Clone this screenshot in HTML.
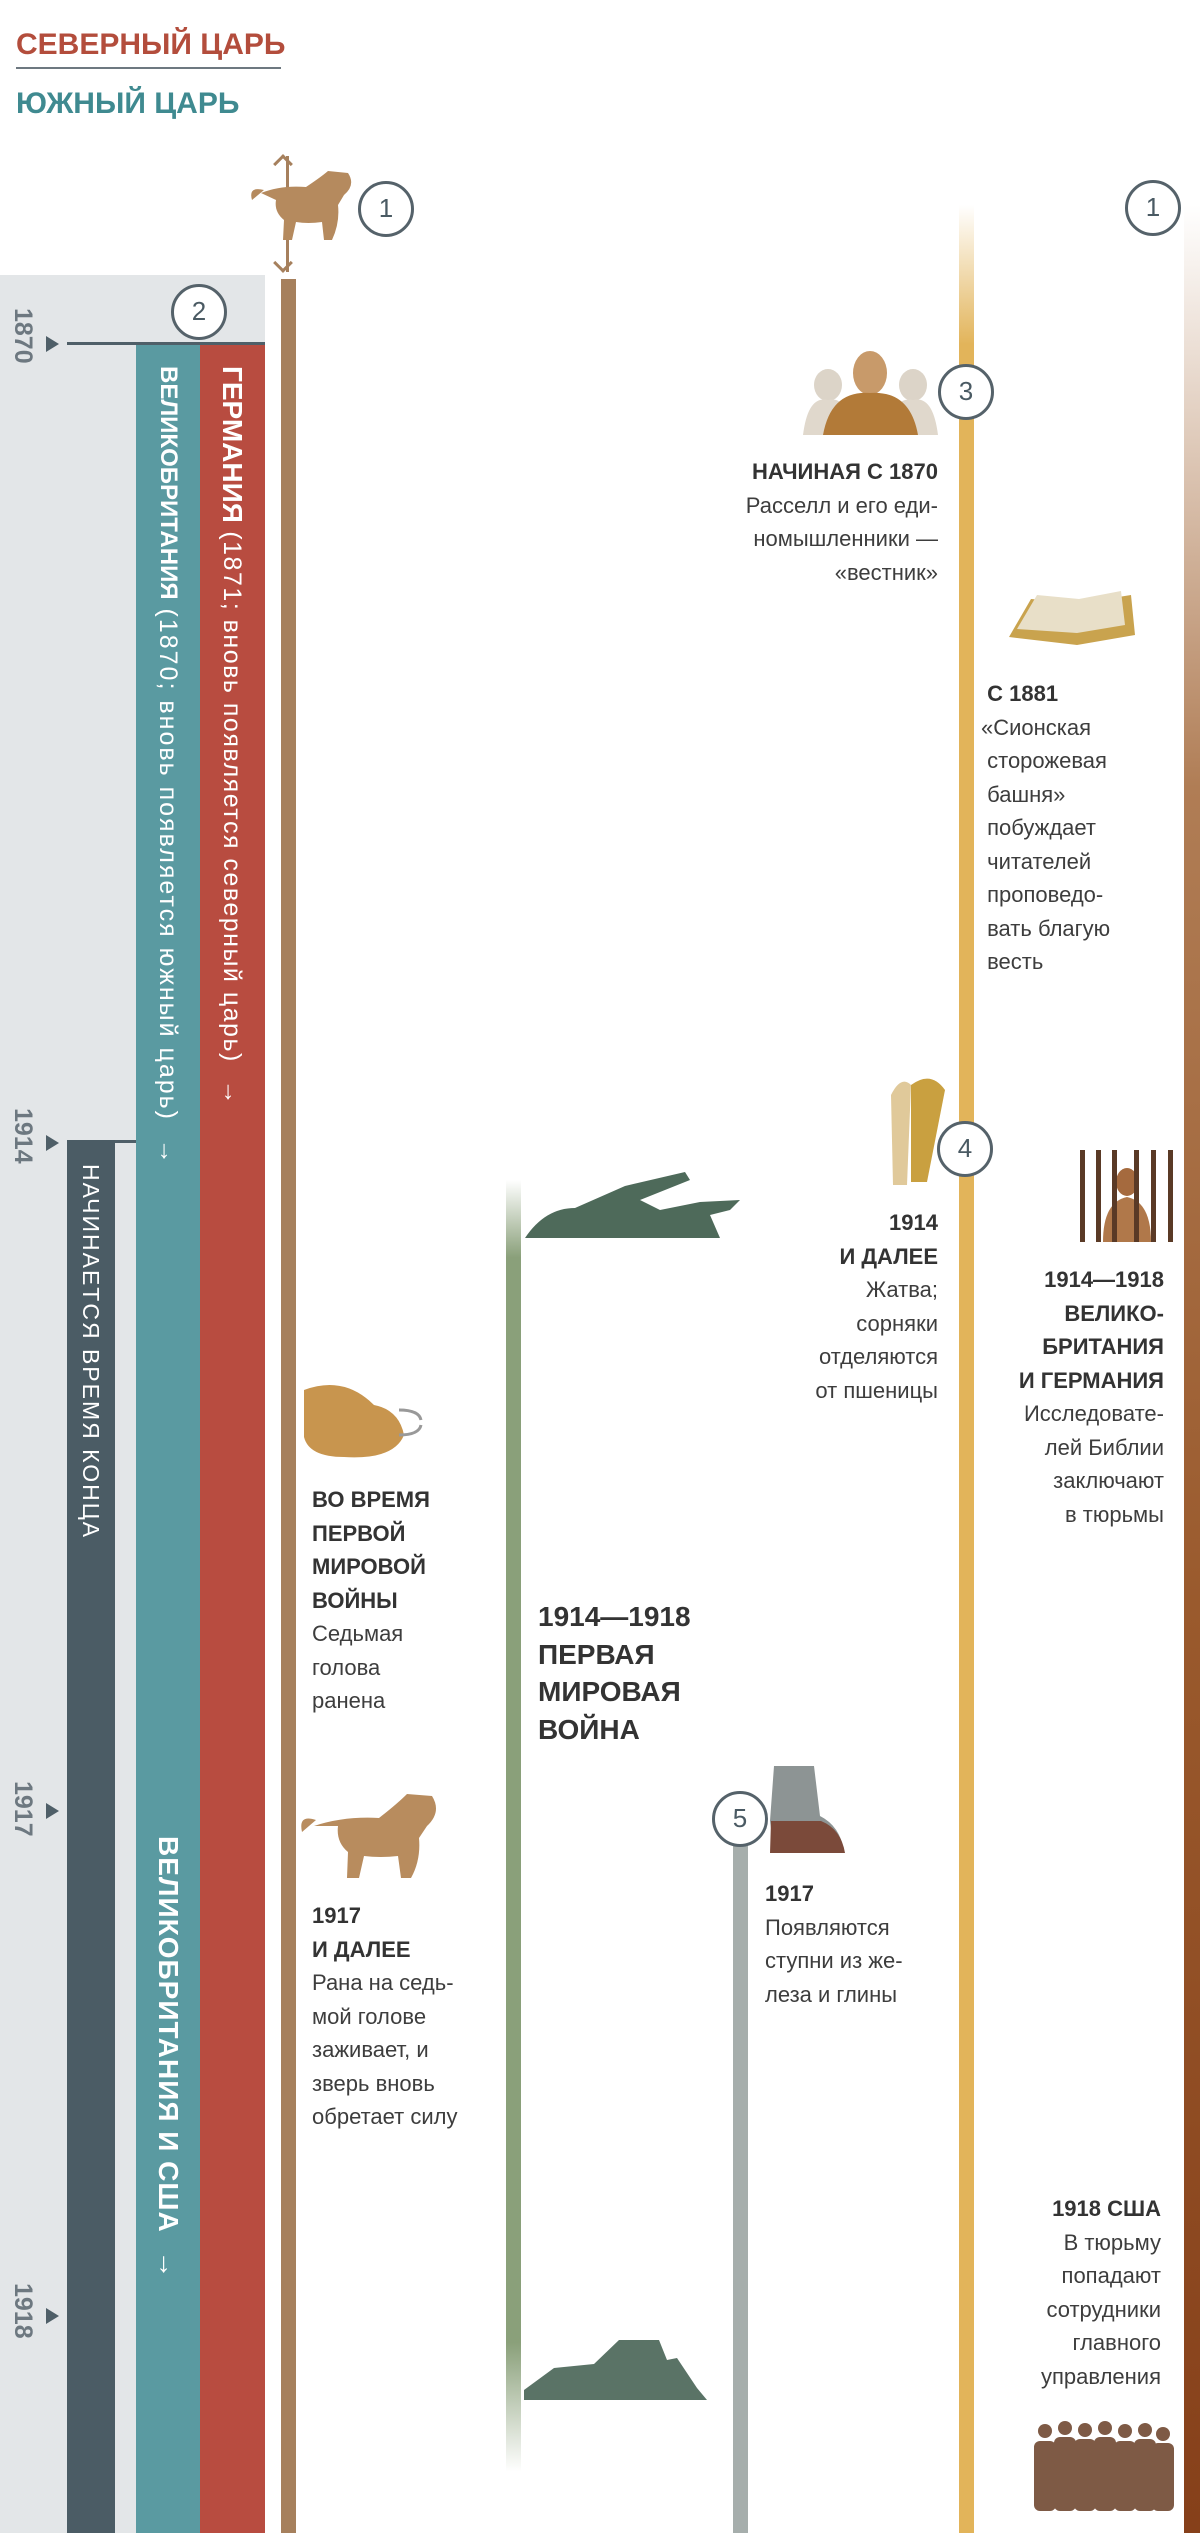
<!DOCTYPE html>
<html><head><meta charset="utf-8">
<style>
*{margin:0;padding:0;box-sizing:border-box}
body{width:1200px;height:2533px;position:relative;background:#fff;overflow:hidden;font-family:"Liberation Sans","DejaVu Sans",sans-serif}
.a{position:absolute}
.t{position:absolute;font-size:22px;line-height:33.5px;color:#3d3d3d;white-space:nowrap}
.t b{font-weight:bold;color:#333}
.r{text-align:right}
.c{position:absolute;width:56px;height:56px;border:3.5px solid #55626a;border-radius:50%;background:#fff;color:#4a5a63;font-size:26px;line-height:49px;text-align:center}
.v{position:absolute;writing-mode:vertical-rl;white-space:nowrap;color:#fff}
.yr{position:absolute;writing-mode:vertical-rl;font-weight:bold;font-size:25px;color:#6d7880;width:30px;line-height:30px;left:8px}
.tri{position:absolute;left:46px;width:0;height:0;border-top:8px solid transparent;border-bottom:8px solid transparent;border-left:13px solid #4f5f68}
</style></head><body>

<div class="a" style="left:16px;top:28px;font-size:30px;font-weight:bold;color:#b34d3c;line-height:34px">СЕВЕРНЫЙ ЦАРЬ</div>
<div class="a" style="left:16px;top:67px;width:265px;height:2px;background:#6d7880"></div>
<div class="a" style="left:16px;top:87px;font-size:30px;font-weight:bold;color:#3f8a90;line-height:34px">ЮЖНЫЙ ЦАРЬ</div>

<div class="a" style="left:0;top:275px;width:265px;height:2258px;background:#e3e6e8"></div>
<div class="a" style="left:67px;top:342px;width:198px;height:3px;background:#4f5f68"></div>
<div class="tri" style="top:336px"></div>
<div class="yr" style="top:308px">1870</div>
<div class="a" style="left:136px;top:345px;width:64px;height:2188px;background:#5a9aa1"></div>
<div class="a" style="left:200px;top:345px;width:65px;height:2188px;background:#b84c40"></div>
<div class="a" style="left:67px;top:1140px;width:69px;height:3px;background:#4f5f68"></div>
<div class="a" style="left:67px;top:1140px;width:48px;height:1393px;background:#4b5c65"></div>
<div class="tri" style="top:1135px"></div>
<div class="yr" style="top:1108px">1914</div>
<div class="tri" style="top:1803px"></div>
<div class="yr" style="top:1781px">1917</div>
<div class="tri" style="top:2308px"></div>
<div class="yr" style="top:2283px">1918</div>

<div class="v" style="left:200px;top:366px;width:65px;line-height:65px;font-size:25px;letter-spacing:1.5px"><b style="font-size:28px;letter-spacing:0">ГЕРМАНИЯ</b> (1871; вновь появляется северный царь) &nbsp;→</div>
<div class="v" style="left:136px;top:366px;width:64px;line-height:64px;font-size:25px;letter-spacing:2px"><b style="font-size:24px;letter-spacing:0">ВЕЛИКОБРИТАНИЯ</b> (1870; вновь появляется южный царь) &nbsp;→</div>
<div class="v" style="left:67px;top:1164px;width:48px;line-height:48px;font-size:23px;letter-spacing:2px">НАЧИНАЕТСЯ ВРЕМЯ КОНЦА</div>
<div class="v" style="left:136px;top:1836px;width:64px;line-height:64px;font-size:28px;font-weight:bold;letter-spacing:1px">ВЕЛИКОБРИТАНИЯ И США &nbsp;→</div>

<div class="a" style="left:281px;top:279px;width:15px;height:2254px;background:#a6805d"></div>
<div class="a" style="left:286px;top:156px;width:3px;height:34px;background:#a6805d"></div>
<div class="a" style="left:276px;top:157px;width:14px;height:14px;border-left:3px solid #a6805d;border-top:3px solid #a6805d;transform:rotate(45deg)"></div>
<div class="a" style="left:286px;top:240px;width:3px;height:32px;background:#a6805d"></div>
<div class="a" style="left:276px;top:256px;width:14px;height:14px;border-right:3px solid #a6805d;border-bottom:3px solid #a6805d;transform:rotate(45deg)"></div>
<svg class="a" style="left:247px;top:165px" width="110" height="75"><path d="M5 35 q-4 -14 12 -10 M14 28 q20-8 45-6 q15-10 22-16 l20 2 q8 12 -4 22 l-6 10 q2 18 -6 35 h-8 l-2-18 q-14 2 -26 0 l-4 18 h-9 l1-20 q-10-8-8-20 z" fill="#b58a5e"/></svg>
<div class="c" style="left:358px;top:181px">1</div>
<div class="c" style="left:171px;top:284px">2</div>

<div class="a" style="left:506px;top:1180px;width:15px;height:1292px;background:linear-gradient(#fff,#8aa07a 6%,#8aa07a 90%,#fff)"></div>
<svg class="a" style="left:525px;top:1170px" width="220" height="70"><path d="M0 68 q20-30 50-30 l50-22 l60-14 l5 8 l-50 20 l20 10 l40-8 l40-2 l-10 10 l-20 5 l10 23 z" fill="#4e6a5a"/></svg>
<svg class="a" style="left:524px;top:2338px" width="190" height="64"><path d="M0 62 l0-10 l30-22 l40-4 l25-24 l40 0 l8 20 l10 -2 l20 30 l10 12 z" fill="#5a7366"/></svg>

<div class="a" style="left:733px;top:1820px;width:15px;height:713px;background:#a6aeac"></div>
<svg class="a" style="left:766px;top:1766px" width="80" height="92"><path d="M8 0 h40 l6 50 q20 10 24 35 h-70 l-4-30 z" fill="#8d9494"/><path d="M5 55 h50 q20 8 24 32 h-75 z" fill="#7b4a3a"/></svg>
<div class="c" style="left:712px;top:1791px">5</div>

<div class="a" style="left:959px;top:205px;width:15px;height:2328px;background:linear-gradient(#fff,#e2b45a 6%,#e2b45a)"></div>
<div class="a" style="left:1184px;top:205px;width:16px;height:2328px;background:linear-gradient(#fff,#b07d55 25%,#9a5a2d 60%,#86401a)"></div>
<div class="c" style="left:1125px;top:180px">1</div>

<svg class="a" style="left:803px;top:345px" width="135" height="90"><ellipse cx="25" cy="40" rx="14" ry="16" fill="#dcd4c8"/><path d="M0 90 q5-40 25-35 q20-5 25 35z" fill="#e0d8cc"/><ellipse cx="110" cy="40" rx="14" ry="16" fill="#dcd4c8"/><path d="M85 90 q5-40 25-35 q20-5 25 35z" fill="#e0d8cc"/><ellipse cx="67" cy="28" rx="17" ry="22" fill="#c89a6a"/><path d="M20 90 q8-45 47-42 q40-3 48 42z" fill="#b27a38"/></svg>
<div class="c" style="left:938px;top:364px">3</div>
<div class="t r" style="right:262px;top:455px"><b>НАЧИНАЯ С 1870</b><br>Расселл и его еди-<br>номышленники —<br>«вестник»</div>

<svg class="a" style="left:1007px;top:589px" width="128" height="56"><path d="M2 48 l22-38 l50 4 l50-8 l4 40 l-58 10 z" fill="#c9a34e"/><path d="M10 40 l20-34 l42 4 l42-8 l4 34 l-48 8 z" fill="#e8dfc8"/></svg>
<div class="t" style="left:981px;top:677px"><b>&nbsp;С 1881</b><br>«Сионская<br>&nbsp;сторожевая<br>&nbsp;башня»<br>&nbsp;побуждает<br>&nbsp;читателей<br>&nbsp;проповедо-<br>&nbsp;вать благую<br>&nbsp;весть</div>

<svg class="a" style="left:883px;top:1075px" width="64" height="112"><path d="M8 20 q10-20 20-10 l-4 100 h-14 z" fill="#e0c99a"/><path d="M28 10 q20-15 34 5 l-18 92 h-16 z" fill="#c9a040"/></svg>
<div class="c" style="left:937px;top:1121px">4</div>
<div class="t r" style="right:262px;top:1206px"><b>1914<br>И ДАЛЕЕ</b><br>Жатва;<br>сорняки<br>отделяются<br>от пшеницы</div>

<svg class="a" style="left:1078px;top:1150px" width="98" height="92"><path d="M25 92 q0-40 24-45 q24 5 24 45z" fill="#b0784a"/><ellipse cx="49" cy="32" rx="11" ry="14" fill="#a56a3e"/><g fill="#5a3a26"><rect x="2" y="0" width="5" height="92"/><rect x="18" y="0" width="5" height="92"/><rect x="34" y="0" width="5" height="92"/><rect x="56" y="0" width="5" height="92"/><rect x="73" y="0" width="5" height="92"/><rect x="90" y="0" width="5" height="92"/></g></svg>
<div class="t r" style="right:36px;top:1263px"><b>1914—1918<br>ВЕЛИКО-<br>БРИТАНИЯ<br>И ГЕРМАНИЯ</b><br>Исследовате-<br>лей Библии<br>заключают<br>в тюрьмы</div>

<svg class="a" style="left:304px;top:1380px" width="120" height="82"><path d="M0 10 q40-15 70 15 q25 5 30 30 q-10 25 -60 22 q-35 0 -40 -20z" fill="#c8954e"/><path d="M95 30 q20 0 22 10 M95 55 q20 0 22-10" stroke="#999" stroke-width="3" fill="none"/></svg>
<div class="t" style="left:312px;top:1483px"><b>ВО ВРЕМЯ<br>ПЕРВОЙ<br>МИРОВОЙ<br>ВОЙНЫ</b><br>Седьмая<br>голова<br>ранена</div>

<div class="t" style="left:538px;top:1598px;font-size:28px;line-height:37.5px"><b>1914—1918<br>ПЕРВАЯ<br>МИРОВАЯ<br>ВОЙНА</b></div>

<svg class="a" style="left:298px;top:1782px" width="142" height="100"><path d="M4 50 q-4-18 14-12 M16 44 q30-10 65-8 q18-14 28-24 l25 2 q10 16 -5 30 l-8 12 q2 22 -8 40 h-10 l-3-22 q-18 2 -34 0 l-5 22 h-12 l1-26 q-12-10 -10-26 z" fill="#b88c5e"/></svg>
<div class="t" style="left:312px;top:1899px"><b>1917<br>И ДАЛЕЕ</b><br>Рана на седь-<br>мой голове<br>заживает, и<br>зверь вновь<br>обретает силу</div>

<div class="t" style="left:765px;top:1877px"><b>1917</b><br>Появляются<br>ступни из же-<br>леза и глины</div>

<div class="t r" style="right:39px;top:2192px"><b>1918 США</b><br>В тюрьму<br>попадают<br>сотрудники<br>главного<br>управления</div>

<svg class="a" style="left:1029px;top:2421px" width="148" height="90"><g fill="#7e5a45"><rect x="5" y="20" width="22" height="70" rx="6"/><rect x="25" y="16" width="22" height="74" rx="6"/><rect x="45" y="18" width="22" height="72" rx="6"/><rect x="65" y="16" width="22" height="74" rx="6"/><rect x="85" y="20" width="22" height="70" rx="6"/><rect x="105" y="18" width="22" height="72" rx="6"/><rect x="123" y="22" width="22" height="68" rx="6"/><circle cx="16" cy="10" r="7"/><circle cx="36" cy="7" r="7"/><circle cx="56" cy="9" r="7"/><circle cx="76" cy="7" r="7"/><circle cx="96" cy="10" r="7"/><circle cx="116" cy="9" r="7"/><circle cx="134" cy="13" r="7"/></g></svg>

</body></html>
